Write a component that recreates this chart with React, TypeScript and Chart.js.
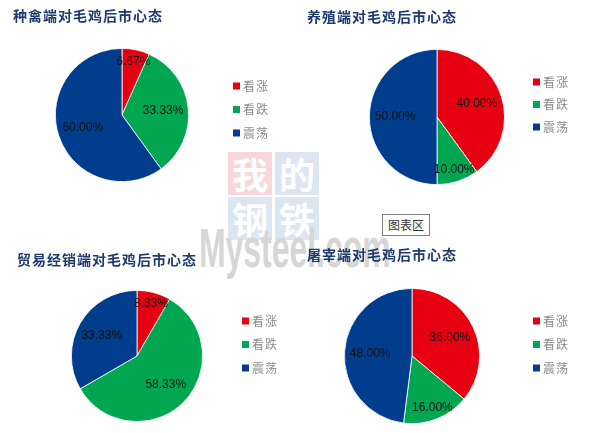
import React, { useEffect, useRef } from "react";
import { Chart, registerables } from "chart.js";
Chart.register(...registerables);

// ---- data ----
const categories = ["看涨", "看跌", "震荡"];
const titles = [
  "种禽端对毛鸡后市心态",
  "养殖端对毛鸡后市心态",
  "贸易经销端对毛鸡后市心态",
  "屠宰端对毛鸡后市心态",
];
const breederValues = [6.67, 33.33, 60.0];
const farmValues = [40.0, 10.0, 50.0];
const tradeValues = [8.33, 58.33, 33.33];
const slaughterValues = [36.0, 16.0, 48.0];
const seriesColors = ["#E60012", "#00A650", "#003D8C"];

// ---- layout (page coordinates) ----
type Panel = {
  left: number; top: number; w: number; h: number;
  cx: number; cy: number; r: number;
  titleX: number; titleY: number;
  legendX: number; legendY: number; legendGap: number;
};
const panels: Panel[] = [
  { left: 0, top: 0, w: 300, h: 217, cx: 122, cy: 115, r: 67, titleX: 13, titleY: 16, legendX: 233, legendY: 86, legendGap: 23.5 },
  { left: 300, top: 0, w: 299, h: 217, cx: 437, cy: 117, r: 68, titleX: 307, titleY: 17, legendX: 533, legendY: 82, legendGap: 22.5 },
  { left: 0, top: 217, w: 300, h: 216, cx: 137, cy: 356, r: 66, titleX: 17, titleY: 260, legendX: 242, legendY: 321, legendGap: 23.5 },
  { left: 300, top: 217, w: 299, h: 216, cx: 412, cy: 356, r: 68, titleX: 307, titleY: 255, legendX: 533, legendY: 321, legendGap: 23.5 },
];
const seriesList = [breederValues, farmValues, tradeValues, slaughterValues];

function PiePanel({ idx }: { idx: number }) {
  const ref = useRef<HTMLCanvasElement | null>(null);
  useEffect(() => {
    const p = panels[idx];
    const values = seriesList[idx];
    const title = titles[idx];
    const canvas = ref.current!;
    const decor = {
      id: "decor",
      afterDatasetsDraw(chart: any) {
        const ctx = chart.ctx as CanvasRenderingContext2D;
        const meta = chart.getDatasetMeta(0);
        const data = chart.data.datasets[0].data as number[];
        const total = data.reduce((a, b) => a + b, 0);
        ctx.save();
        ctx.font = '12px "Liberation Sans", Arial, sans-serif';
        ctx.fillStyle = "#111111";
        ctx.textAlign = "center";
        ctx.textBaseline = "middle";
        meta.data.forEach((arc: any, i: number) => {
          const { x, y, startAngle, endAngle, outerRadius } = arc.getProps(
            ["x", "y", "startAngle", "endAngle", "outerRadius"], true);
          const mid = (startAngle + endAngle) / 2;
          const share = data[i] / total;
          const frac = share < 0.2 ? 0.82 : 0.62;
          ctx.fillText(
            data[i].toFixed(2) + "%",
            x + Math.cos(mid) * outerRadius * frac,
            y + Math.sin(mid) * outerRadius * frac
          );
        });
        ctx.restore();
      },
      afterDraw(chart: any) {
        const ctx = chart.ctx as CanvasRenderingContext2D;
        ctx.save();
        // title
        ctx.font = 'bold 14px "Noto Sans CJK SC", sans-serif';
        (ctx as any).letterSpacing = "1px";
        ctx.fillStyle = "#1F3A6E";
        ctx.textAlign = "left";
        ctx.textBaseline = "middle";
        ctx.fillText(title, p.titleX - p.left, p.titleY - p.top);
        (ctx as any).letterSpacing = "1px";
        // legend
        ctx.font = '12px "Noto Sans CJK SC", sans-serif';
        categories.forEach((c, i) => {
          const y = p.legendY - p.top + i * p.legendGap;
          const x = p.legendX - p.left;
          ctx.fillStyle = seriesColors[i];
          ctx.fillRect(x, y - 3.5, 7, 7);
          ctx.fillStyle = "#8A8A8A";
          ctx.fillText(c, x + 10, y);
        });
        ctx.restore();
      },
    };
    const chart = new Chart(canvas, {
      type: "pie",
      data: {
        labels: categories,
        datasets: [
          {
            data: values,
            backgroundColor: seriesColors,
            borderColor: "#ffffff",
            borderWidth: 0.8,
          },
        ],
      },
      options: {
        responsive: false,
        animation: false,
        layout: {
          padding: {
            left: p.cx - p.left - p.r,
            right: p.left + p.w - p.cx - p.r,
            top: p.cy - p.top - p.r,
            bottom: p.top + p.h - p.cy - p.r,
          },
        },
        plugins: {
          legend: { display: false },
          title: { display: false },
          tooltip: { enabled: false },
        },
      },
      plugins: [decor],
    });
    return () => chart.destroy();
  }, [idx]);
  const p = panels[idx];
  return (
    <canvas
      ref={ref}
      width={p.w}
      height={p.h}
      style={{ position: "absolute", left: p.left, top: p.top, width: p.w, height: p.h, zIndex: 1 }}
    />
  );
}

const boxStyle = (left: number, top: number, bg: string): React.CSSProperties => ({
  position: "absolute",
  left,
  top,
  width: 44,
  height: 43,
  background: bg,
  color: "#ffffff",
  fontFamily: '"Noto Sans CJK SC", sans-serif',
  fontWeight: 700,
  fontSize: 36,
  lineHeight: "43px",
  textAlign: "center",
});

export default function App() {
  return (
    <div
      style={{
        position: "absolute",
        left: 0,
        top: 0,
        width: 599,
        height: 433,
        background: "#ffffff",
        overflow: "hidden",
      }}
    >
      {/* watermark */}
      <div style={{ position: "absolute", left: 0, top: 0, zIndex: 0 }}>
        <div style={boxStyle(228, 152, "#F7D7DB")}>我</div>
        <div style={boxStyle(275, 152, "#DCE5F2")}>的</div>
        <div style={boxStyle(228, 197, "#DCE5F2")}>钢</div>
        <div style={boxStyle(275, 197, "#DCE5F2")}>铁</div>
        <div
          style={{
            position: "absolute",
            left: 199,
            top: 216,
            fontFamily: '"Liberation Sans", Arial, sans-serif',
            fontWeight: 700,
            fontSize: 56,
            lineHeight: "64px",
            color: "#D6D6D6",
            transform: "scaleX(0.57)",
            transformOrigin: "0 0",
            whiteSpace: "nowrap",
          }}
        >
          Mysteel.com
        </div>
      </div>
      {panels.map((_, i) => (
        <PiePanel key={i} idx={i} />
      ))}
      <div
        style={{
          position: "absolute",
          left: 382,
          top: 214,
          width: 46,
          height: 20,
          border: "1px solid #808080",
          background: "#ffffff",
          fontFamily: '"Noto Sans CJK SC", sans-serif',
          fontSize: 12,
          lineHeight: "20px",
          textAlign: "center",
          color: "#333333",
          zIndex: 2,
        }}
      >
        图表区
      </div>
    </div>
  );
}
